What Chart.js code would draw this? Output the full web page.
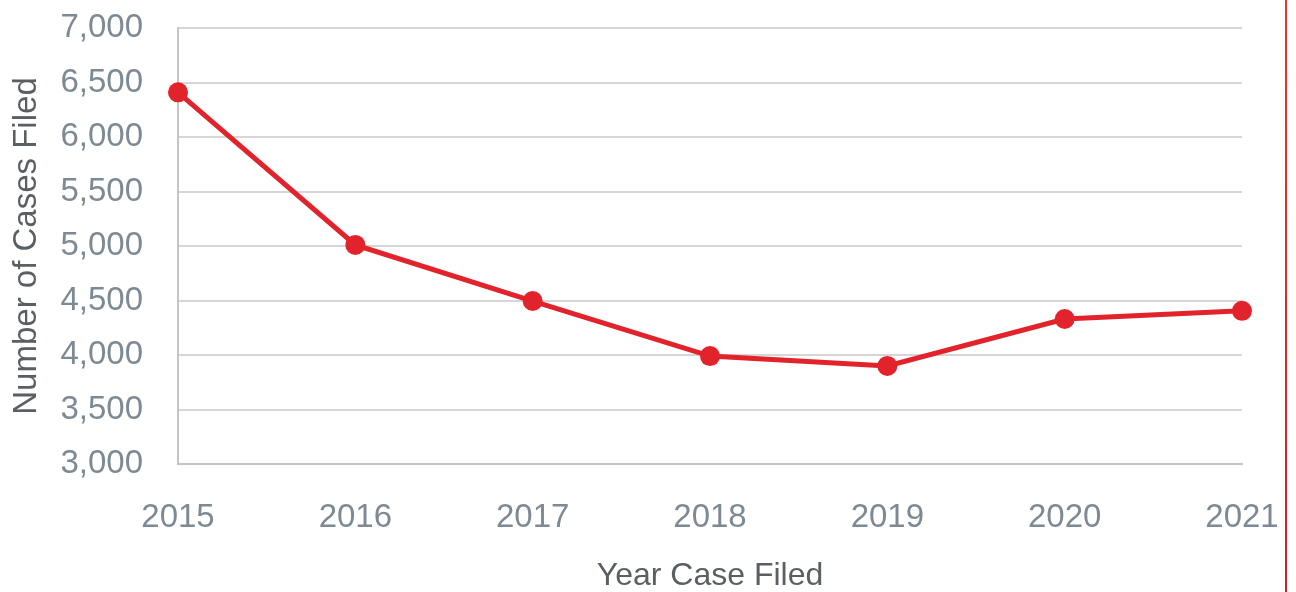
<!DOCTYPE html>
<html>
<head>
<meta charset="utf-8">
<script src="https://cdn.jsdelivr.net/npm/chart.js@4/dist/chart.umd.min.js"></script>
<style>
  html, body { margin: 0; padding: 0; background: #fff; }
  #wrap { position: relative; width: 1296px; height: 592px; }
  #edge { position: absolute; left: 1285px; top: 0; width: 2px; height: 592px;
          background: linear-gradient(#e8352a, #c8202a); }
</style>
</head>
<body>
<div id="wrap">
  <canvas id="myChart" width="1296" height="592"></canvas>
  <div id="edge"></div>
</div>
<script>
// data
const years = ['2015', '2016', '2017', '2018', '2019', '2020', '2021'];
const casesFiled = [6410, 5010, 4495, 3990, 3900, 4330, 4405];
const yTicks = [3000, 3500, 4000, 4500, 5000, 5500, 6000, 6500, 7000];

const tickColor = '#7d8a94';
const titleColor = '#5a5f63';
const red = '#e2232b';

var ctx = document.getElementById('myChart').getContext('2d');
var chart = new Chart(ctx, {
  type: 'line',
  data: {
    labels: years,
    datasets: [{
      label: 'Number of Cases Filed',
      data: casesFiled,
      borderColor: red,
      backgroundColor: red,
      borderWidth: 5,
      pointRadius: 10,
      pointBackgroundColor: red,
      pointBorderWidth: 0,
      tension: 0
    }]
  },
  options: {
    responsive: false,
    animation: false,
    maintainAspectRatio: false,
    layout: { padding: { top: 28, right: 54, left: 0, bottom: 0 } },
    plugins: {
      legend: { display: false },
      tooltip: { enabled: false }
    },
    scales: {
      x: {
        offset: false,
        afterFit: (s) => { s.height = 128; s.paddingLeft = 0; s.paddingRight = 0; },
        grid: { display: false, drawTicks: false },
        border: { display: true, color: '#c4c4c4', width: 2 },
        ticks: {
          color: tickColor,
          padding: 34,
          maxRotation: 0,
          font: { family: 'Liberation Sans', size: 33 }
        },
        title: {
          display: true,
          text: 'Year Case Filed',
          color: titleColor,
          padding: { top: 0, bottom: 0 },
          font: { family: 'Liberation Sans', size: 32, lineHeight: 1 }
        }
      },
      y: {
        min: 3000,
        max: 7000,
        afterFit: (s) => { s.width = 178; s.paddingTop = 0; s.paddingBottom = 0; },
        afterBuildTicks: (s) => { s.ticks = yTicks.map(v => ({ value: v })); },
        grid: { color: '#d6d6d6', lineWidth: 2, drawTicks: false },
        border: { display: true, color: '#c4c4c4', width: 2 },
        ticks: {
          color: tickColor,
          padding: 35,
          font: { family: 'Liberation Sans', size: 33 },
          callback: (v) => v.toLocaleString('en-US')
        },
        title: {
          display: true,
          text: 'Number of Cases Filed',
          color: titleColor,
          padding: { top: 10, bottom: 0 },
          font: { family: 'Liberation Sans', size: 33, lineHeight: 1 }
        }
      }
    }
  }
});
</script>
</body>
</html>
